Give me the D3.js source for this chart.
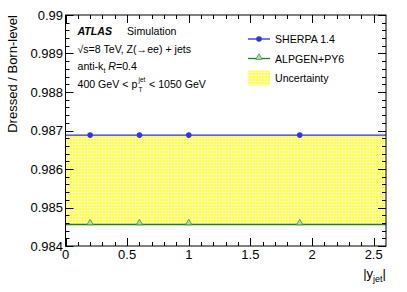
<!DOCTYPE html>
<html><head><meta charset="utf-8">
<script src="https://cdn.jsdelivr.net/npm/d3@7"></script>
<style>body{margin:0;background:#fff}svg{display:block;font-family:"Liberation Sans",Arial,Helvetica,sans-serif}</style>
</head><body>
<script>
const binCenters = [0.2, 0.6, 1.0, 1.9];
const sherpaValues = [0.98688, 0.98688, 0.98688, 0.98688];
const alpgenValues = [0.98456, 0.98456, 0.98456, 0.98456];
const bandUpper = [0.98688, 0.98688, 0.98688, 0.98688];
const bandLower = [0.98456, 0.98456, 0.98456, 0.98456];
const xTickValues = [0, 0.5, 1, 1.5, 2, 2.5];
const xTickLabels = ["0", "0.5", "1", "1.5", "2", "2.5"];
const yTickValues = [0.984, 0.985, 0.986, 0.987, 0.988, 0.989, 0.99];
const yTickLabels = ["0.984", "0.985", "0.986", "0.987", "0.988", "0.989", "0.99"];
const legendLabels = ["SHERPA 1.4", "ALPGEN+PY6", "Uncertainty"];

const W = 407, H = 292;
const m = {l: 65.5, r: 386, t: 15, b: 246};
const svg = d3.select("body").append("svg").attr("width", W).attr("height", H);
const x = d3.scaleLinear().domain([0, 2.6]).range([m.l, m.r]);
const y = d3.scaleLinear().domain([0.984, 0.99]).range([m.b, m.t]);

const defs = svg.append("defs");
const pat = defs.append("pattern").attr("id", "hatch").attr("patternUnits", "userSpaceOnUse")
  .attr("width", 3).attr("height", 3);
pat.append("rect").attr("width", 3).attr("height", 3).attr("fill", "#ffff4a");
pat.append("rect").attr("width", 3).attr("height", 1).attr("fill", "#ffffa8");
pat.append("rect").attr("width", 1).attr("height", 3).attr("fill", "#ffffa8");

const bandData = [{x: 0, lo: bandLower[0], hi: bandUpper[0]}].concat(
  binCenters.map((c, i) => ({x: c, lo: bandLower[i], hi: bandUpper[i]})),
  [{x: 2.6, lo: bandLower[bandLower.length - 1], hi: bandUpper[bandUpper.length - 1]}]);
svg.append("path").datum(bandData)
  .attr("d", d3.area().x(d => x(d.x)).y0(d => y(d.lo)).y1(d => y(d.hi)).curve(d3.curveStepAfter))
  .attr("fill", "url(#hatch)");

function lineData(vals) {
  return [{x: 0, v: vals[0]}].concat(binCenters.map((c, i) => ({x: c, v: vals[i]})), [{x: 2.6, v: vals[vals.length - 1]}]);
}
const ln = d3.line().x(d => x(d.x)).y(d => y(d.v));
svg.append("path").datum(lineData(alpgenValues)).attr("d", ln).attr("fill", "none").attr("stroke", "#1e7f1e").attr("stroke-width", 1.5);
svg.append("path").datum(lineData(sherpaValues)).attr("d", ln).attr("fill", "none").attr("stroke", "#2f2fd6").attr("stroke-width", 1.3);

const tri = d3.symbol().type(d3.symbolTriangle).size(18);
svg.selectAll(".tri").data(binCenters).enter().append("path")
  .attr("transform", (d, i) => `translate(${x(d)},${y(alpgenValues[i]) - 1.5})`)
  .attr("d", tri).attr("fill", "#b6dcb0").attr("stroke", "#3a9a3a").attr("stroke-width", 0.8);
svg.selectAll(".dot").data(binCenters).enter().append("circle")
  .attr("cx", d => x(d)).attr("cy", (d, i) => y(sherpaValues[i])).attr("r", 2.8).attr("fill", "#3434dc");

svg.append("rect").attr("x", m.l).attr("y", m.t).attr("width", m.r - m.l).attr("height", m.b - m.t)
  .attr("fill", "none").attr("stroke", "#000").attr("stroke-width", 1);

const tk = svg.append("g").attr("stroke", "#000").attr("stroke-width", 1);
const xMinor = d3.range(0, 26).map(i => i * 0.1);
xMinor.forEach(v => {
  const major = xTickValues.some(t => Math.abs(t - v) < 1e-9);
  const len = major ? 8 : 4;
  const px = Math.round(x(v)) + 0.5;
  tk.append("line").attr("x1", px).attr("x2", px).attr("y1", m.b).attr("y2", m.b - len);
  tk.append("line").attr("x1", px).attr("x2", px).attr("y1", m.t).attr("y2", m.t + len);
});
const yMinor = d3.range(0, 31).map(i => 0.984 + i * 0.0002);
yMinor.forEach(v => {
  const major = yTickValues.some(t => Math.abs(t - v) < 1e-9);
  const len = major ? 8 : 4;
  const py = Math.round(y(v)) + 0.5;
  tk.append("line").attr("x1", m.l).attr("x2", m.l + len).attr("y1", py).attr("y2", py);
  tk.append("line").attr("x1", m.r).attr("x2", m.r - len).attr("y1", py).attr("y2", py);
});

svg.selectAll(".xl").data(xTickValues).enter().append("text")
  .attr("x", d => x(d)).attr("y", 259).attr("text-anchor", "middle").attr("font-size", 13)
  .text((d, i) => xTickLabels[i]);
svg.selectAll(".yl").data(yTickValues).enter().append("text")
  .attr("x", 63).attr("y", d => y(d) + 4.6).attr("text-anchor", "end").attr("font-size", 13)
  .text((d, i) => yTickLabels[i]);

svg.append("text").attr("transform", `translate(17,${m.t}) rotate(-90)`).attr("text-anchor", "end")
  .attr("font-size", 13).text("Dressed / Born-level");
const xt = svg.append("text").attr("x", 386).attr("y", 278).attr("text-anchor", "end").attr("font-size", 13);
xt.append("tspan").text("|y");
xt.append("tspan").attr("font-size", 9).attr("dy", 4).text("jet");
xt.append("tspan").attr("dy", -4).text("|");

const fs = 10.6;
const t1 = svg.append("text").attr("x", 77.5).attr("y", 34.5).attr("font-size", fs);
t1.append("tspan").attr("font-weight", "bold").attr("font-style", "italic").text("ATLAS");
t1.append("tspan").attr("x", 127).text("Simulation");
svg.append("text").attr("x", 77.5).attr("y", 52.5).attr("font-size", fs).text("\u221As=8 TeV, Z(\u2192ee) + jets");
const t3 = svg.append("text").attr("x", 77.5).attr("y", 70).attr("font-size", fs);
t3.append("tspan").text("anti-k");
t3.append("tspan").attr("font-size", 7).attr("dy", 2.5).text("t");
t3.append("tspan").attr("dy", -2.5).text(" ");
t3.append("tspan").attr("font-style", "italic").text("R");
t3.append("tspan").text("=0.4");
svg.append("text").attr("x", 77.5).attr("y", 87.5).attr("font-size", fs).text("400 GeV < p");
svg.append("text").attr("x", 138.5).attr("y", 81.5).attr("font-size", 6.5).text("jet");
svg.append("text").attr("x", 138.5).attr("y", 91.5).attr("font-size", 6.5).text("T");
svg.append("text").attr("x", 149).attr("y", 87.5).attr("font-size", fs).text("< 1050 GeV");

const lg = svg.append("g").attr("font-size", 10.6);
const lx0 = 248, lx1 = 270, ltx = 275;
const rows = [39, 58.5, 78];
lg.append("line").attr("x1", lx0).attr("x2", lx1).attr("y1", rows[0]).attr("y2", rows[0]).attr("stroke", "#2f2fd6").attr("stroke-width", 1.3);
lg.append("circle").attr("cx", (lx0 + lx1) / 2).attr("cy", rows[0]).attr("r", 2.8).attr("fill", "#3434dc");
lg.append("line").attr("x1", lx0).attr("x2", lx1).attr("y1", rows[1]).attr("y2", rows[1]).attr("stroke", "#1e7f1e").attr("stroke-width", 1.3);
lg.append("path").attr("transform", `translate(${(lx0 + lx1) / 2},${rows[1] - 1})`).attr("d", tri)
  .attr("fill", "#b6dcb0").attr("stroke", "#3a9a3a").attr("stroke-width", 0.8);
lg.append("rect").attr("x", lx0).attr("y", rows[2] - 7.5).attr("width", lx1 - lx0).attr("height", 15).attr("fill", "url(#hatch)");
legendLabels.forEach((t, i) => lg.append("text").attr("x", ltx).attr("y", rows[i] + 4).text(t));
</script>
</body></html>
